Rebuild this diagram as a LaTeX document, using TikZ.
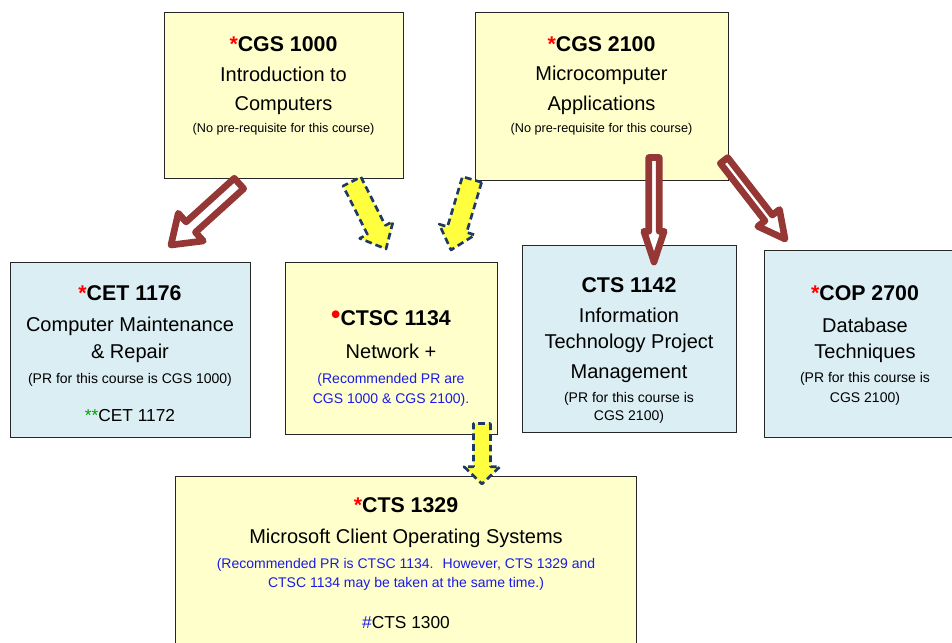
\documentclass[tikz,border=0pt]{standalone}
\usepackage{fontspec}
\setmainfont{Liberation Sans}
\usetikzlibrary{calc}
\definecolor{boxyellow}{HTML}{FFFFCC}
\definecolor{boxblue}{HTML}{DBEEF4}
\definecolor{arrowred}{HTML}{953735}
\definecolor{dashnavy}{HTML}{1F3864}
\definecolor{arrowyellow}{HTML}{FFFF40}
\definecolor{prblue}{HTML}{1A1AE6}
\definecolor{stargreen}{HTML}{00A000}
\newcommand{\blockarrow}[6][]{%
  \coordinate (neck) at ($(#3)!#6!(#2)$);
  \draw[#1] ($(#2)!#4!90:(#3)$) -- ($(neck)!#4!90:(#3)$) -- ($(neck)!#5!90:(#3)$) -- (#3)
    -- ($(neck)!#5!-90:(#3)$) -- ($(neck)!#4!-90:(#3)$) -- ($(#2)!#4!-90:(#3)$) -- cycle;}
\tikzset{
  ybox/.style={rectangle, draw=black!85, line width=1.1pt, fill=boxyellow, inner sep=0pt, anchor=north west},
  bbox/.style={ybox, fill=boxblue},
  crscode/.style={anchor=base, font=\bfseries\fontsize{16}{19}\selectfont},
  crsname/.style={anchor=base, font=\fontsize{15}{18}\selectfont},
  crsnote/.style={anchor=base, font=\fontsize{10.5}{12}\selectfont},
  topnote/.style={crsnote, font=\fontsize{9.5}{11}\selectfont},
  prnote/.style={crsnote, text=prblue},
  altcode/.style={anchor=base, font=\fontsize{13}{15}\selectfont},
  hollow/.style={draw=arrowred, line width=5pt, fill=white, line join=round},
  dashy/.style={draw=dashnavy, line width=2pt, dash pattern=on 5pt off 3pt, fill=arrowyellow, line join=round},
}
\begin{document}
\begin{tikzpicture}[x=0.75pt, y=-0.75pt]
  \useasboundingbox (0,0) rectangle (952,642);

  % boxes
  \node[ybox, minimum width=179.25pt, minimum height=124.5pt] (cgsa) at (164,12) {};
  \node[ybox, minimum width=189.75pt, minimum height=126pt] (cgsb) at (475,12) {};
  \node[bbox, minimum width=180pt, minimum height=131.25pt] (cet) at (10,262) {};
  \node[ybox, minimum width=159pt, minimum height=129pt] (ctsc) at (285,262) {};
  \node[bbox, minimum width=160.5pt, minimum height=140.25pt] (ctsa) at (522,245) {};
  \node[bbox, minimum width=151.5pt, minimum height=140.25pt] (cop) at (764,250) {};
  \node[ybox, minimum width=345.75pt, minimum height=142.5pt] (ctsb) at (175,476) {};

  % CGS 1000
  \node[crscode] (cgsa-code) at (283.5,52) {\textcolor{red}{*}CGS 1000};
  \node[crsname] (cgsa-name1) at (283.5,82) {Introduction to};
  \node[crsname] (cgsa-name2) at (283.5,110) {Computers};
  \node[topnote] (cgsa-note) at (283.5,132) {(No pre-requisite for this course)};

  % CGS 2100
  \node[crscode] (cgsb-code) at (601.5,52) {\textcolor{red}{*}CGS 2100};
  \node[crsname] (cgsb-name1) at (601.5,80) {Microcomputer};
  \node[crsname] (cgsb-name2) at (601.5,110) {Applications};
  \node[topnote] (cgsb-note) at (601.5,132) {(No pre-requisite for this course)};

  % CET 1176
  \node[crscode] (cet-code) at (130,300) {\textcolor{red}{*}CET 1176};
  \node[crsname] (cet-name1) at (130,331) {Computer Maintenance};
  \node[crsname] (cet-name2) at (130,358) {\& Repair};
  \node[crsnote] (cet-note) at (130,383) {(PR for this course is CGS 1000)};
  \node[altcode] (cet-alt) at (130,421) {\textcolor{stargreen}{**}CET 1172};

  % CTSC 1134
  \node[crscode] (ctsc-code) at (391,325) {\textcolor{red}{\fontsize{20}{20}\selectfont\raisebox{1pt}{\textbullet}}CTSC 1134};
  \node[crsname] (ctsc-name) at (391,358) {Network +};
  \node[prnote] (ctsc-note1) at (391,383) {(Recommended PR are};
  \node[prnote] (ctsc-note2) at (391,403) {CGS 1000 \& CGS 2100).};

  % CTS 1142
  \node[crscode] (ctsa-code) at (629,292) {CTS 1142};
  \node[crsname] (ctsa-name1) at (629,322) {Information};
  \node[crsname] (ctsa-name2) at (629,348) {Technology Project};
  \node[crsname] (ctsa-name3) at (629,378) {Management};
  \node[crsnote] (ctsa-note1) at (629,402) {(PR for this course is};
  \node[crsnote] (ctsa-note2) at (629,420) {CGS 2100)};

  % COP 2700
  \node[crscode] (cop-code) at (865,300) {\textcolor{red}{*}COP 2700};
  \node[crsname] (cop-name1) at (865,332) {Database};
  \node[crsname] (cop-name2) at (865,358) {Techniques};
  \node[crsnote] (cop-note1) at (865,382) {(PR for this course is};
  \node[crsnote] (cop-note2) at (865,402) {CGS 2100)};

  % CTS 1329
  \node[crscode] (ctsb-code) at (406,512) {\textcolor{red}{*}CTS 1329};
  \node[crsname] (ctsb-name) at (406,543) {Microsoft Client Operating Systems};
  \node[prnote] (ctsb-note1) at (406,568) {(Recommended PR is CTSC 1134.~ However, CTS 1329 and};
  \node[prnote] (ctsb-note2) at (406,587) {CTSC 1134 may be taken at the same time.)};
  \node[altcode] (ctsb-alt) at (406,628) {\textcolor{prblue}{\#}CTS 1300};

  % arrow ends
  \coordinate (a1s) at ([shift={(75,4)}]cgsa.south west);
  \coordinate (a1e) at ([shift={(161,-17)}]cet.north west);
  \coordinate (a2s) at ([shift={(188,2)}]cgsa.south west);
  \coordinate (a2e) at ([shift={(101,-13)}]ctsc.north west);
  \coordinate (a3s) at ([shift={(-3,-2)}]cgsb.south west);
  \coordinate (a3e) at ([shift={(166,-12)}]ctsc.north west);
  \coordinate (a4s) at ([shift={(179,-24)}]cgsb.south west);
  \coordinate (a4e) at ([shift={(132,17)}]ctsa.north west);
  \coordinate (a5s) at ([shift={(249,-21)}]cgsb.south west);
  \coordinate (a5e) at ([shift={(21,-11)}]cop.north west);
  \coordinate (a6s) at ([shift={(197,-12)}]ctsc.south west);
  \coordinate (a6e) at ([shift={(307,8)}]ctsb.north west);

  % arrows
  \blockarrow[hollow]{a1s}{a1e}{5.25pt}{14pt}{20pt}
  \blockarrow[dashy]{a2s}{a2e}{7.5pt}{14pt}{16pt}
  \blockarrow[dashy]{a3s}{a3e}{7.5pt}{14pt}{16pt}
  \blockarrow[hollow]{a4s}{a4e}{3.9pt}{7.6pt}{23pt}
  \blockarrow[hollow]{a5s}{a5e}{3.5pt}{10.3pt}{20pt}
  \blockarrow[dashy]{a6s}{a6e}{6.4pt}{13.5pt}{13pt}
\end{tikzpicture}
\end{document}
